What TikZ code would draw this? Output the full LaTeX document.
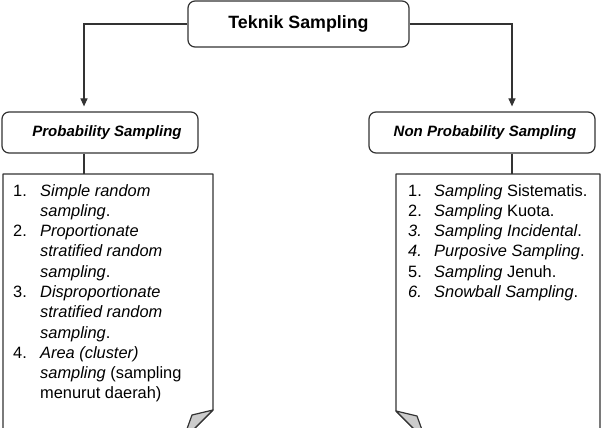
\documentclass[tikz,border=0pt]{standalone}
\usepackage{fontspec}
\setmainfont{Liberation Sans}
\usetikzlibrary{arrows.meta,positioning,calc}
\definecolor{ln}{HTML}{333333}
\definecolor{fold}{HTML}{CCCCCC}

\begin{document}
\begin{tikzpicture}[x=1pt,y=-1pt,
    box/.style={draw=ln,line width=1.2pt,rounded corners=7pt,fill=white,inner sep=0pt},
    link/.style={draw=ln,line width=1.2pt},
    arr/.style={link,-{Triangle[length=8pt,width=7pt]},shorten >=5pt},
    note/.style={draw=ln,line width=1.2pt,fill=white,line join=round},
    flap/.style={draw=ln,line width=1.2pt,fill=fold,line join=round},
    lst/.style={anchor=base west,inner sep=0pt,font=\fontsize{16.4}{20.3}\selectfont}]
  \clip (0,0) rectangle (603,428);
  % boxes
  \node[box,minimum width=221pt,minimum height=46pt,
        font=\fontsize{17.8}{21}\selectfont\bfseries] (top) at (298.5,24) {\raisebox{3pt}{Teknik Sampling}};
  \node[box,minimum width=196pt,minimum height=41pt,
        font=\fontsize{15}{18}\selectfont\bfseries\itshape] (prob) at (100,132.5) {\hspace*{14pt}\raisebox{3pt}{Probability Sampling}};
  \node[box,minimum width=226pt,minimum height=41pt,
        font=\fontsize{15}{18}\selectfont\bfseries\itshape] (nonprob) at (482,132.5) {\hspace*{6pt}\raisebox{3pt}{Non Probability Sampling}};
  % folded notes
  \draw[note] (3,174) -- (213,174) -- (213,410) -- (183,440) -- (3,440) -- cycle;
  \draw[flap] (213,410) -- (192,415) -- (183,440) -- cycle;
  \draw[note] (396,174) -- (600,174) -- (600,441) -- (426,441) -- (396,411) -- cycle;
  \draw[flap] (396,411) -- (417,416) -- (426,441) -- cycle;
  \coordinate (ltop) at (84,174);
  \coordinate (rtop) at (512,174);
  % connectors
  \draw[arr] (top.west) -| (prob.north -| ltop);
  \draw[arr] (top.east) -| (nonprob.north -| rtop);
  \draw[link] (prob.south -| ltop) -- (ltop);
  \draw[link] (nonprob.south -| rtop) -- (rtop);
  % lists
  \node[lst] (plist) at (13,196) {\begin{tabular}[t]{@{}p{27pt}@{}l@{}}
    1. & \textit{Simple random}\\
       & \textit{sampling}.\\
    2. & \textit{Proportionate}\\
       & \textit{stratified random}\\
       & \textit{sampling}.\\
    3. & \textit{Disproportionate}\\
       & \textit{stratified random}\\
       & \textit{sampling}.\\
    4. & \textit{Area (cluster)}\\
       & \textit{sampling} (sampling\\
       & menurut daerah)
  \end{tabular}};
  \node[lst] (nlist) at (408,196) {\begin{tabular}[t]{@{}p{26pt}@{}l@{}}
    1. & \textit{Sampling} Sistematis.\\
    2. & \textit{Sampling} Kuota.\\
    \textit{3.} & \textit{Sampling Incidental}.\\
    \textit{4.} & \textit{Purposive Sampling}.\\
    5. & \textit{Sampling} Jenuh.\\
    \textit{6.} & \textit{Snowball Sampling}.
  \end{tabular}};
\end{tikzpicture}
\end{document}
